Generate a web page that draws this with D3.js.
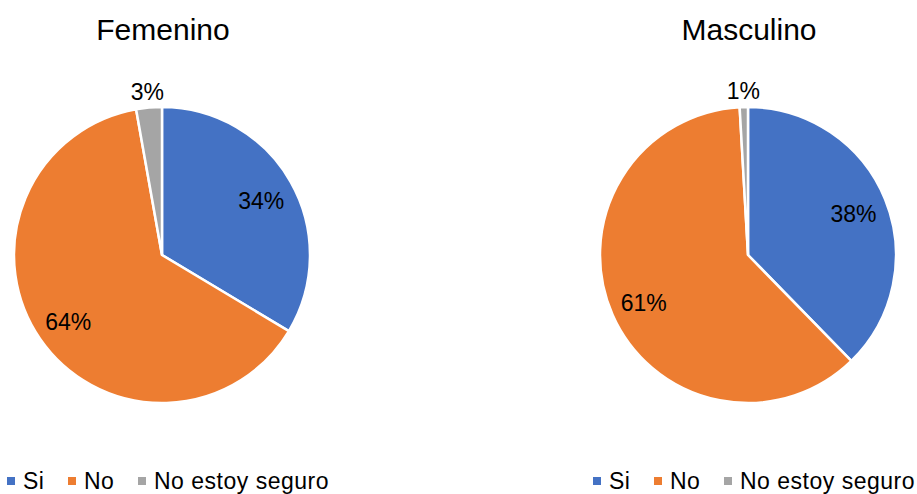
<!DOCTYPE html>
<html>
<head>
<meta charset="utf-8">
<script src="https://cdn.jsdelivr.net/npm/d3@7"></script>
<style>
  body { margin: 0; background: #fff; }
  text { font-family: 'Liberation Sans', Arial, sans-serif; fill: #000; }
</style>
</head>
<body>
<svg id="chart" width="917" height="494"></svg>
<script>
const categories = ['Si', 'No', 'No estoy seguro']
const colors = ['#4472C4', '#ED7D31', '#A5A5A5']
const femenino = [33.6, 63.6, 2.8]
const masculino = [37.7, 61.4, 0.9]
const titles = ['Femenino', 'Masculino']

const svg = d3.select('#chart')
const radius = 148

const pie = d3.pie().sort(null).value(d => d)
const arc = d3.arc().innerRadius(0).outerRadius(radius)

function drawPie (values, title, cx, legendX) {
  const g = svg.append('g').attr('transform', `translate(${cx},255)`)

  g.append('text')
    .attr('x', 1)
    .attr('y', -215)
    .attr('text-anchor', 'middle')
    .style('font-size', '30px')
    .text(title)

  const arcs = pie(values)
  g.selectAll('path')
    .data(arcs)
    .join('path')
    .attr('d', arc)
    .attr('fill', (d, i) => colors[i])
    .attr('stroke', '#fff')
    .attr('stroke-width', 2.5)

  // labels: inside for big slices, outside for the small one
  g.selectAll('.lbl')
    .data(arcs)
    .join('text')
    .attr('class', 'lbl')
    .attr('text-anchor', 'middle')
    .attr('dominant-baseline', 'central')
    .style('font-size', '23px')
    .attr('transform', d => {
      const a = (d.startAngle + d.endAngle) / 2
      const r = d.data < 5 ? radius * 1.12 : radius * 0.77
      return `translate(${Math.sin(a) * r},${-Math.cos(a) * r + 2})`
    })
    .text(d => Math.round(d.data) + '%')

  // legend
  const offsets = [0, 61, 131]
  const lg = svg.append('g').attr('transform', `translate(${legendX},481)`)
  const item = lg.selectAll('g')
    .data(categories)
    .join('g')
    .attr('transform', (d, i) => `translate(${offsets[i]},0)`)
  item.append('rect')
    .attr('x', 0)
    .attr('y', -4)
    .attr('width', 8)
    .attr('height', 8)
    .attr('fill', (d, i) => colors[i])
  item.append('text')
    .attr('x', 16)
    .attr('y', 8)
    .style('font-size', '23px')
    .style('letter-spacing', '0.5px')
    .text(d => d)
}

drawPie(femenino, titles[0], 162, 7)
drawPie(masculino, titles[1], 748, 593)
</script>
</body>
</html>
